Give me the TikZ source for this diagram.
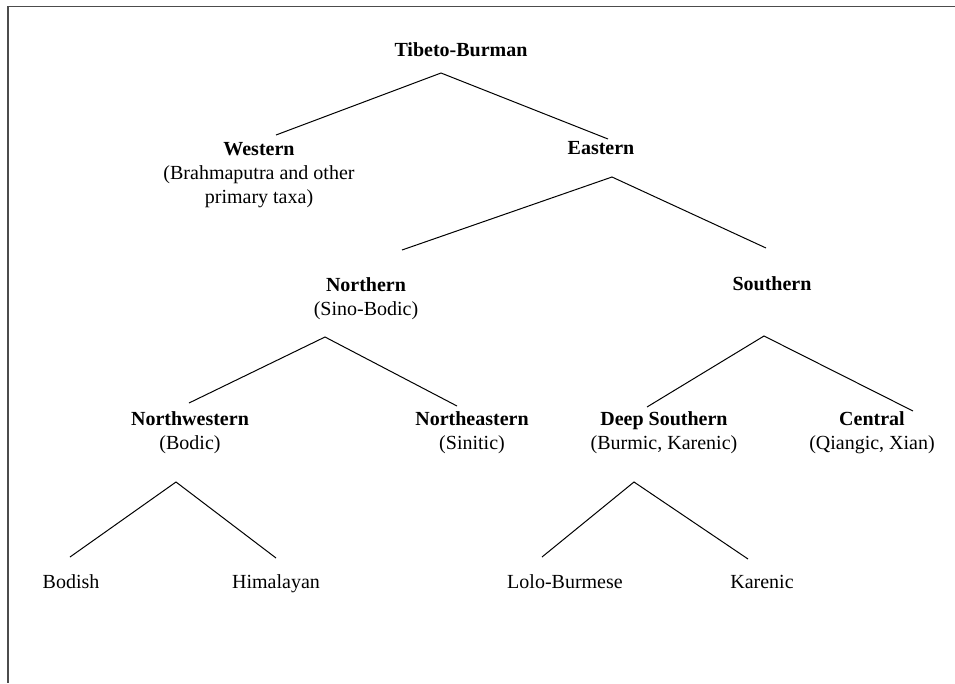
\documentclass[tikz,border=0pt]{standalone}
\usepackage{fontspec}
\setmainfont{Liberation Serif}
\usepackage{tikz}
\usetikzlibrary{positioning}

\begin{document}
\begin{tikzpicture}[x=1pt, y=-1pt,
		every node/.style={font=\fontsize{20}{24}\selectfont, align=center, anchor=base, inner sep=0pt},
		branch/.style={line width=1pt}]
	\useasboundingbox (0,0) rectangle (955,683);
	\draw[black!70, line width=1.5pt] (955,6.5) -- (8,6.5) -- (8,683);

	% labels (anchored at the baseline of their last line)
	\node (tb) at (461,56) {\textbf{Tibeto-Burman}};
	\node (west) at (259,203) {\textbf{Western}\\(Brahmaputra and other\\primary taxa)};
	\node (east) at (601,154) {\textbf{Eastern}};
	\node (north) at (366,315) {\textbf{Northern}\\(Sino-Bodic)};
	\node (south) at (772,290) {\textbf{Southern}};
	\node (nw) at (190,449) {\textbf{Northwestern}\\(Bodic)};
	\node (ne) at (472,449) {\textbf{Northeastern}\\(Sinitic)};
	\node (ds) at (664,449) {\textbf{Deep Southern}\\(Burmic, Karenic)};
	\node (cent) at (872,449) {\textbf{Central}\\(Qiangic, Xian)};
	\node (bod) at (71,588) {Bodish};
	\node (him) at (276,588) {Himalayan};
	\node (lolo) at (565,588) {Lolo-Burmese};
	\node (kar) at (762,588) {Karenic};

	% branch points
	\coordinate (tb-fork) at (441,73);
	\coordinate (west-in) at (276,135);
	\coordinate (east-in) at (608,139);
	\coordinate (east-fork) at (612,177);
	\coordinate (north-in) at (402,250);
	\coordinate (south-in) at (766,248);
	\coordinate (north-fork) at (325,337);
	\coordinate (nw-in) at (189,403);
	\coordinate (ne-in) at (457,406);
	\coordinate (south-fork) at (764,336);
	\coordinate (ds-in) at (647,407);
	\coordinate (cent-in) at (913,411);
	\coordinate (nw-fork) at (176,482);
	\coordinate (bod-in) at (70,557);
	\coordinate (him-in) at (276,558);
	\coordinate (ds-fork) at (634,482);
	\coordinate (lolo-in) at (542,557);
	\coordinate (kar-in) at (748,559);

	\draw[branch] (west-in) -- (tb-fork) -- (east-in);
	\draw[branch] (north-in) -- (east-fork) -- (south-in);
	\draw[branch] (nw-in) -- (north-fork) -- (ne-in);
	\draw[branch] (ds-in) -- (south-fork) -- (cent-in);
	\draw[branch] (bod-in) -- (nw-fork) -- (him-in);
	\draw[branch] (lolo-in) -- (ds-fork) -- (kar-in);
\end{tikzpicture}
\end{document}
